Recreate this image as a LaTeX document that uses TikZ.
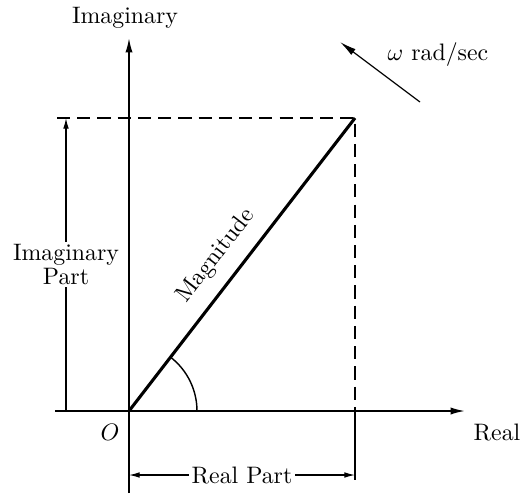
\documentclass[tikz,border=0pt]{standalone}
\usepackage{tikz}
\usetikzlibrary{arrows.meta, calc}

\tikzset{
    axis/.style={line width=0.7pt, -{Latex[length=6pt, width=3pt]}},
    magline/.style={line width=1.3pt},
    guide/.style={line width=0.6pt, dash pattern=on 5.5pt off 3pt},
    dimline/.style={line width=0.5pt},
    dimlabel/.style={fill=white, inner sep=1pt, align=center},
}

\begin{document}
\begin{tikzpicture}[x=0.42pt, y=-0.42pt]
    \useasboundingbox (0,0) rectangle (523,493);
    % points of the picture
    \coordinate (O) at (129,411);
    \coordinate (P) at (355,118);
    \coordinate (imTop) at (129,38);
    \coordinate (imBot) at (129,493);
    \coordinate (reLeft) at (55,411);
    \coordinate (reRight) at (465,411);
    \coordinate (guideLeft) at (57,118);
    \coordinate (Px) at (355,411);
    \coordinate (PxExt) at (355,480);
    \coordinate (dimImTop) at (66,118);
    \coordinate (dimImBot) at (66,411);
    \coordinate (dimReL) at (129,475);
    \coordinate (dimReR) at (355,475);
    \coordinate (omTail) at (420,102);
    \coordinate (omTip) at (340,42);

    % axes
    \draw[axis] (imBot) -- (imTop);
    \draw[axis] (reLeft) -- (reRight);
    \node (imLabel) at (125,18) {Imaginary};
    \node (reLabel) at (497,432) {Real};
    \node (oLabel) at (110,432) {$O$};

    % projections
    \draw[guide] (guideLeft) -- (P) -- (Px);
    \draw[dimline] (Px) -- (PxExt);

    % magnitude and angle
    \draw[magline] (O) -- (P);
    \node[rotate=52.4] (magLabel) at (216,256) {Magnitude};
    \draw[line width=0.6pt] (O) ++(68,0) arc[start angle=0, end angle=-52.4, radius=68];

    % dimensions
    \draw[dimline, -{Latex[length=4.5pt, width=2.4pt]}] (dimImBot) -- node[dimlabel] (imPart) {Imaginary\\[-2pt]Part} (dimImTop);
    \draw[dimline, {Latex[length=4.5pt, width=2.4pt]}-{Latex[length=4.5pt, width=2.4pt]}] (dimReL) -- node[dimlabel] (rePart) {Real Part} (dimReR);

    % rotation
    \draw[line width=0.5pt, -{Latex[length=7pt, width=3pt]}] (omTail) -- (omTip);
    \node (omLabel) at (438,55) {$\omega$ rad/sec};
\end{tikzpicture}
\end{document}
